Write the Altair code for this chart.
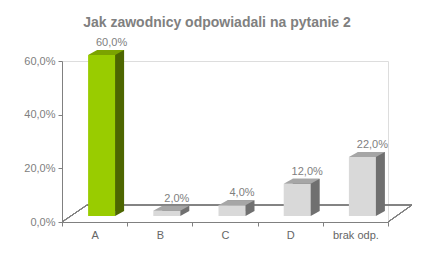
import altair as alt
import pandas as pd

categories = ["A", "B", "C", "D", "brak odp."]
values = [60.0, 2.0, 4.0, 12.0, 22.0]
y_ticks = [0, 20, 40, 60]
title_text = "Jak zawodnicy odpowiadali na pytanie 2"

df = pd.DataFrame({"cat": categories, "val": values})
df["zero"] = 0.0

FONT = "Liberation Sans"
W, H = 326, 161
BW = 27      # front face width
DX, DY = 9, 5  # bar depth offset
FX, FY = 7, -6  # front face offset from band centre / floor front

is_a = alt.datum.cat == "A"
front_col = alt.condition(is_a, alt.value("#99CC00"), alt.value("#D9D9D9"))
top_col = alt.condition(is_a, alt.value("#7BA300"), alt.value("#A6A6A6"))
side_col = alt.condition(is_a, alt.value("#4D6600"), alt.value("#707070"))

x_enc = alt.X("cat:N", sort=categories,
              scale=alt.Scale(paddingInner=0, paddingOuter=0),
              axis=alt.Axis(title=None, labelAngle=0, tickBand="extent",
                            domainColor="#808080", tickColor="#808080",
                            tickSize=4, labelPadding=3,
                            labelColor="#666666", labelFont=FONT, labelFontSize=11))
y_scale = alt.Scale(domain=[0, 60], nice=False)
y_enc = alt.Y("val:Q", scale=y_scale,
              axis=alt.Axis(title=None, values=y_ticks, grid=False,
                            domainColor="#808080", tickColor="#808080",
                            tickSize=4, labelPadding=3,
                            labelColor="#808080", labelFont=FONT, labelFontSize=11,
                            labelExpr="replace(format(datum.value/100, '.1%'), '.', ',')"))

base = alt.Chart(df)

floor_col = "#808080"
back_line = base.mark_rule(color=floor_col, yOffset=-17).encode(
    y=alt.datum(0, scale=y_scale), x=alt.value(25), x2=alt.value(W + 24))
left_diag = base.mark_rule(color=floor_col).encode(
    x=alt.value(0), x2=alt.value(25), y=alt.value(H), y2=alt.value(H - 17))
right_diag = base.mark_rule(color=floor_col).encode(
    x=alt.value(W), x2=alt.value(W + 24), y=alt.value(H), y2=alt.value(H - 17))

side = base.mark_bar(width=BW, xOffset=FX + DX, yOffset=FY - DY, y2Offset=FY - DY).encode(
    x=x_enc, y=y_enc, y2=alt.Y2("zero:Q"), color=side_col)
front = base.mark_bar(width=BW, xOffset=FX, yOffset=FY, y2Offset=FY).encode(
    x=x_enc, y=y_enc, y2=alt.Y2("zero:Q"), color=front_col)

h = BW / 2
top_path = f"M {-h} 0 L {-h + DX} {-DY} L {h + DX} {-DY} L {h} 0 Z"
tri_path = f"M {h} {-DY} L {h + DX} {-DY} L {h} 0 Z"
top = base.mark_point(shape=top_path, size=4, filled=True, opacity=1, strokeWidth=0,
                      xOffset=FX, yOffset=FY).encode(x=x_enc, y=y_enc, color=top_col)
tri = base.mark_point(shape=tri_path, size=4, filled=True, opacity=1, strokeWidth=0,
                      xOffset=FX, yOffset=FY).encode(
    x=x_enc, y=alt.Y("zero:Q", scale=y_scale), color=side_col)

labels = base.transform_calculate(
    lab="replace(format(datum.val/100, '.1%'), '.', ',')"
).mark_text(font=FONT, fontSize=11, color="#808080", baseline="alphabetic",
            xOffset=17, yOffset=-15).encode(x=x_enc, y=y_enc, text="lab:N")

chart = alt.layer(back_line, left_diag, right_diag, side, front, top, tri, labels).properties(
    width=W, height=H,
    padding={"left": 62, "top": 61, "right": 47, "bottom": 39},
    autosize=alt.AutoSizeParams(type="none"),
    title=alt.TitleParams(title_text, font=FONT, fontSize=14, fontWeight="bold",
                          color="#808080", anchor="middle", dx=-8, dy=12, offset=8,
                          baseline="alphabetic"),
).configure_view(stroke=None).configure(background="white")

chart.save("out.html", embed_options={"renderer": "svg", "actions": False})
